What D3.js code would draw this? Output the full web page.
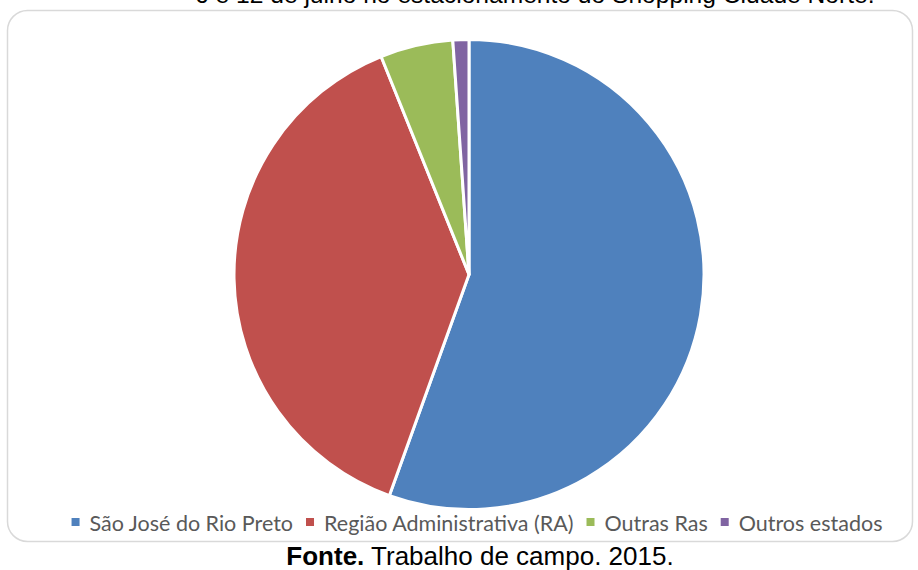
<!DOCTYPE html>
<html>
<head>
<meta charset="utf-8">
<script src="https://cdn.jsdelivr.net/npm/d3@7"></script>
<style>
  html, body { margin: 0; padding: 0; background: #fff; }
  svg { display: block; }
</style>
</head>
<body>
<svg id="chart" width="918" height="570"></svg>
<script>
// Origem dos veículos (%)
const categories = ["São José do Rio Preto", "Região Administrativa (RA)", "Outras Ras", "Outros estados"];
const values = [55.5, 38.4, 5.0, 1.1];
const colors = ["#4F81BD", "#C0504D", "#9BBB59", "#8064A2"];
const titleText = "6 e 12 de julho no estacionamento do Shopping Cidade Norte.";
const sourceBold = "Fonte.";
const sourceText = " Trabalho de campo. 2015.";

const svg = d3.select("#chart");

// Title line (continues from the line above, partly beyond the top edge)
svg.append("text")
  .attr("x", 195).attr("y", 3)
  .attr("font-family", "Liberation Sans, Arial, sans-serif")
  .attr("font-size", 24.6)
  .attr("fill", "#000")
  .text(titleText);

// Chart area frame
svg.append("rect")
  .attr("x", 7.5).attr("y", 10.5)
  .attr("width", 905).attr("height", 531)
  .attr("rx", 20).attr("ry", 20)
  .attr("fill", "#fff")
  .attr("stroke", "#d9d9d9").attr("stroke-width", 1.5);

// Pie
const cx = 469, cy = 274.5, r = 235;
const pie = d3.pie().sort(null).value(d => d);
const arc = d3.arc().innerRadius(0).outerRadius(r);
const color = d3.scaleOrdinal().domain(categories).range(colors);

svg.append("g")
  .attr("transform", `translate(${cx},${cy})`)
  .selectAll("path")
  .data(pie(values))
  .join("path")
  .attr("d", arc)
  .attr("fill", (d, i) => color(categories[i]))
  .attr("stroke", "#fff")
  .attr("stroke-width", 3)
  .attr("stroke-linejoin", "round");

// Legend
const legend = svg.append("g")
  .attr("font-family", "Lato, 'Open Sans', sans-serif")
  .attr("font-size", 21.5);
const items = legend.selectAll("g").data(categories).join("g");
items.append("rect")
  .attr("width", 8).attr("height", 8)
  .attr("y", -13)
  .attr("fill", d => color(d));
items.append("text")
  .attr("x", 18)
  .attr("y", 0)
  .attr("fill", "#595959")
  .text(d => d);

const widths = [];
items.each(function() {
  widths.push(18 + this.querySelector("text").getComputedTextLength());
});
const gap = 13;
const total = d3.sum(widths) + gap * (widths.length - 1);
let start = 477 - total / 2;
items.attr("transform", (d, i) => {
  const t = `translate(${start},531)`;
  start += widths[i] + gap;
  return t;
});

// Source line
const src = svg.append("text")
  .attr("x", 480).attr("y", 565)
  .attr("text-anchor", "middle")
  .attr("font-family", "Liberation Sans, Arial, sans-serif")
  .attr("font-size", 26)
  .attr("fill", "#000");
src.append("tspan").attr("font-weight", "bold").text(sourceBold);
src.append("tspan").text(sourceText);
</script>
</body>
</html>
